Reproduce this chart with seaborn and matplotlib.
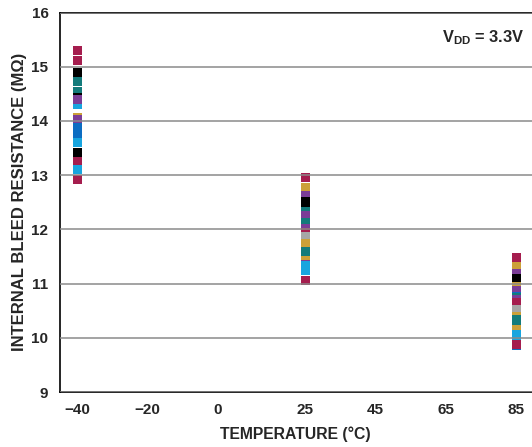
import matplotlib
matplotlib.use("Agg")
import matplotlib.pyplot as plt
import seaborn as sns
import pandas as pd

# Colour names used for the individual parts
CRIMSON = "#A51D4E"
BLACK = "#000000"
TEAL = "#137B7B"
PURPLE = "#7B3D97"
CYAN = "#18A5DF"
BLUE = "#0C6DC2"
GOLD = "#CCA038"
GRAY = "#A6A6A6"

# Internal bleed resistance (MOhm) per part, in drawing order
res_m40 = [15.29, 15.12, 14.89, 14.72, 14.55, 14.30, 14.43, 14.39, 14.06, 14.03,
           13.87, 13.76, 13.60, 13.41, 13.25, 13.10, 12.92]
col_m40 = [CRIMSON, CRIMSON, BLACK, TEAL, TEAL, CYAN, BLACK, PURPLE, GOLD, PURPLE,
           BLUE, BLUE, CYAN, BLACK, CRIMSON, CYAN, CRIMSON]

res_25 = [12.95, 12.77, 12.62, 12.52, 12.41, 12.33, 12.25, 12.12, 12.01, 11.95,
          11.86, 11.73, 11.60, 11.52, 11.42, 11.36, 11.33, 11.24, 11.06]
col_25 = [CRIMSON, GOLD, PURPLE, BLACK, BLACK, TEAL, PURPLE, TEAL, PURPLE, CRIMSON,
          GRAY, GOLD, TEAL, TEAL, GOLD, PURPLE, CYAN, CYAN, CRIMSON]

res_85 = [11.48, 11.32, 11.19, 11.09, 10.95, 10.88, 10.77, 10.74, 10.71, 10.65,
          10.52, 10.40, 10.34, 10.25, 10.15, 10.06, 10.01, 9.85, 9.88]
col_85 = [CRIMSON, GOLD, PURPLE, BLACK, GOLD, PURPLE, BLUE, TEAL, PURPLE, CRIMSON,
          GRAY, GOLD, TEAL, TEAL, GOLD, CYAN, CYAN, BLUE, CRIMSON]

temperatures = [-40, 25, 85]
x_ticks = [-40, -20, 0, 25, 45, 65, 85]
x_tick_labels = ["\u221240", "\u221220", "0", "25", "45", "65", "85"]
y_ticks = [9, 10, 11, 12, 13, 14, 15, 16]

rows = []
for t, vals, cols in zip(temperatures, [res_m40, res_25, res_85], [col_m40, col_25, col_85]):
    for v, c in zip(vals, cols):
        rows.append({"temp": t, "res": v, "color": c})
df = pd.DataFrame(rows)

sns.set_style("white")
plt.rcParams["font.family"] = ["Liberation Sans", "DejaVu Sans"]
plt.rcParams["mathtext.fontset"] = "custom"
plt.rcParams["mathtext.rm"] = "Liberation Sans"
plt.rcParams["mathtext.bf"] = "Liberation Sans:bold"

fig = plt.figure(figsize=(5.32, 4.47), dpi=100)
ax = fig.add_axes([59.5 / 532, 55 / 447, 1 - 59.5 / 532, (392 - 12.5) / 447])

palette = {c: c for c in df["color"].unique()}
sns.scatterplot(data=df, x="temp", y="res", hue="color", palette=palette,
                marker="s", s=42, linewidth=0, legend=False, ax=ax)

ax.set_xlim(-45.0, 89.5)
ax.set_ylim(9, 16)
ax.set_xticks(x_ticks)
ax.set_xticklabels(x_tick_labels)
ax.set_yticks(y_ticks)

ax.set_axisbelow(False)
ax.yaxis.grid(True, color="#8a8a8a", linewidth=1.1)
ax.xaxis.grid(False)

for side in ["left", "bottom", "top"]:
    ax.spines[side].set_visible(True)
    ax.spines[side].set_color("black")
    ax.spines[side].set_linewidth(1.2)
ax.spines["right"].set_visible(False)

ax.tick_params(axis="both", length=0, labelsize=11)
ax.tick_params(axis="y", pad=8)
ax.tick_params(axis="x", pad=8)
for lbl in ax.get_xticklabels() + ax.get_yticklabels():
    lbl.set_fontweight("bold")

ax.set_xlabel("TEMPERATURE (\u00b0C)", fontsize=11.3, fontweight="bold", labelpad=7)
ax.set_ylabel("INTERNAL BLEED RESISTANCE (M\u03a9)", fontsize=12, fontweight="bold", labelpad=3)

ax.text(0.896, 0.933, r"$\mathbf{V_{DD}}$ = 3.3V", transform=ax.transAxes,
        ha="center", va="center", fontsize=11.8, fontweight="bold")

fig.savefig("out.png", dpi=100)
